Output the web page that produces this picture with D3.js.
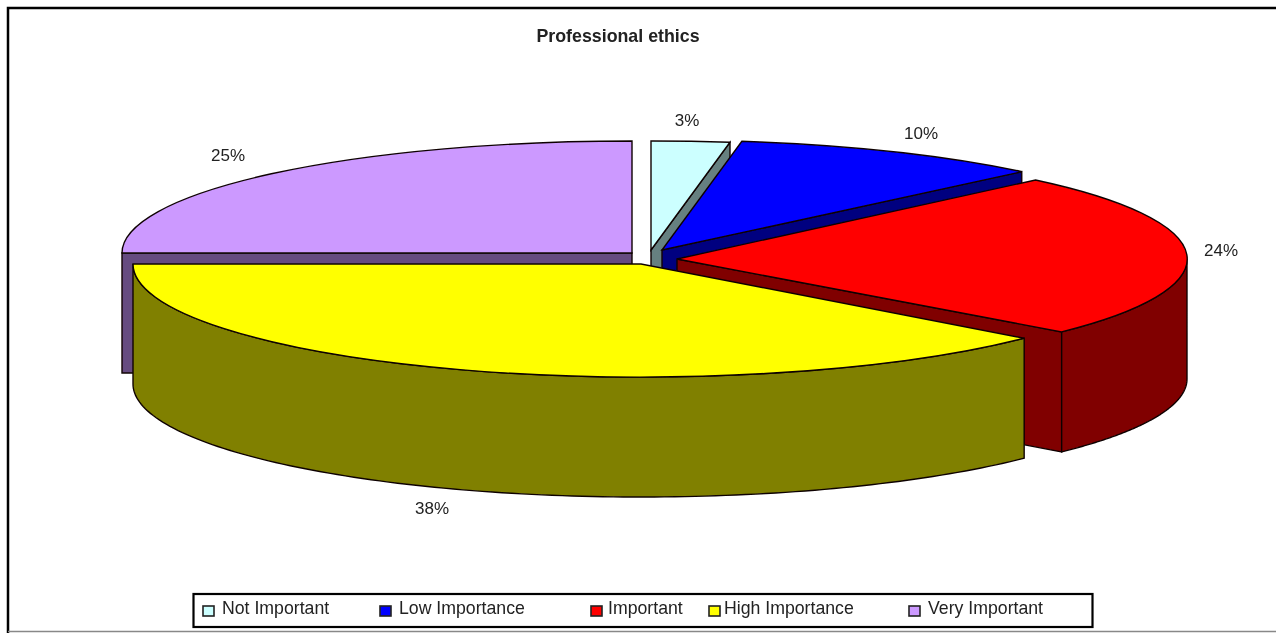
<!DOCTYPE html>
<html>
<head>
<meta charset="utf-8">
<script src="https://cdn.jsdelivr.net/npm/d3@7"></script>
<style>
html,body{margin:0;padding:0;background:#fff;overflow:hidden}
svg{display:block}
text{font-family:"Liberation Sans",Arial,sans-serif;fill:#222}
</style>
</head>
<body>
<svg id="c" width="1276" height="633"></svg>
<script>
// ---- data ----
const categories = ["Not Important", "Low Importance", "Important", "High Importance", "Very Important"];
const percentLabels = ["3%", "10%", "24%", "38%", "25%"];
// Shares as drawn: the sweep of each slice measured on the reference
const drawnShares = [2.5, 9.9, 24, 38.6, 25];
const topColors = ["#ccffff", "#0000ff", "#ff0000", "#ffff00", "#cc99ff"];
const sideColors = ["#668080", "#000080", "#800000", "#808000", "#664c80"];

// ---- layout ----
const chartTitle = "Professional ethics";
const depth = 120;
const sliceCenters = [[651, 250], [662, 250], [677, 259], [641, 264], [632, 253]];
const sliceRadii = [[505, 109], [512, 110], [510, 111], [508, 113], [510, 112]];
const labelAnchors = [[687, 126], [921, 139], [1221, 256], [432, 514], [228, 161]];
const legendSwatchX = [203, 380, 591, 709, 909];
const legendTextX = [222, 399, 608, 724, 928];
const paintOrder = [4, 0, 1, 2, 3];

const svg = d3.select("#c");
const defs = svg.append("defs");
defs.append("filter").attr("id", "soft")
  .attr("x", 0).attr("y", 0).attr("width", 1).attr("height", 1)
  .attr("filterUnits", "objectBoundingBox")
  .append("feGaussianBlur").attr("stdDeviation", 0.5);

const root = svg.append("g").attr("filter", "url(#soft)");
root.append("rect").attr("width", 1276).attr("height", 633).attr("fill", "#fff");

// frame
root.append("path").attr("d", "M1276,8H8V633").attr("fill", "none").attr("stroke", "#000").attr("stroke-width", 2.5);
root.append("line").attr("x1", 8).attr("x2", 1276).attr("y1", 631.5).attr("y2", 631.5)
  .attr("stroke", "#888").attr("stroke-width", 1.5);

// title
root.append("text").attr("x", 618).attr("y", 42).attr("text-anchor", "middle")
  .attr("font-size", 17.8).attr("font-weight", "bold").text(chartTitle);

const arcs = d3.pie().sort(null)(drawnShares);
const unitArc = d3.arc().innerRadius(0).outerRadius(1);
const line = d3.line();
const edge = "#100404";

function slicePoint(i, a, dy) {
  const [cx, cy] = sliceCenters[i], [rx, ry] = sliceRadii[i];
  return [cx + rx * Math.sin(a), cy - ry * Math.cos(a) + (dy || 0)];
}

paintOrder.forEach(i => {
  const d = arcs[i];
  const g = root.append("g");
  const [cx, cy] = sliceCenters[i], [rx, ry] = sliceRadii[i];
  const a0 = d.startAngle, a1 = d.endAngle;

  // cut faces, drawn when they turn towards the viewer
  [a0, a1].forEach((a, k) => {
    const towardViewer = (k === 1 && a < Math.PI) || (k === 0 && a >= 1.5 * Math.PI - 1e-6);
    if (!towardViewer) return;
    const p = slicePoint(i, a);
    g.append("path").attr("d", line([[cx, cy], p, [p[0], p[1] + depth], [cx, cy + depth]]) + "Z")
      .attr("fill", sideColors[i]).attr("stroke", edge).attr("stroke-width", 1.4);
  });

  // outer rim: only the near half of the ellipse shows
  const r0 = Math.max(a0, Math.PI / 2), r1 = Math.min(a1, 1.5 * Math.PI);
  if (r1 > r0) {
    const angles = d3.range(0, 121).map(t => r0 + (r1 - r0) * t / 120);
    const upper = angles.map(a => slicePoint(i, a));
    const lower = angles.map(a => slicePoint(i, a, depth)).reverse();
    g.append("path").attr("d", line(upper.concat(lower)) + "Z")
      .attr("fill", sideColors[i]).attr("stroke", edge).attr("stroke-width", 1.4);
  }

  // top face
  g.append("path").attr("d", unitArc(d))
    .attr("transform", `translate(${cx},${cy}) scale(${rx},${ry})`)
    .attr("fill", topColors[i]).attr("stroke", edge).attr("stroke-width", 1.4)
    .attr("vector-effect", "non-scaling-stroke");
});

// percent labels
root.selectAll("text.pct").data(percentLabels).join("text").attr("class", "pct")
  .attr("x", (d, i) => labelAnchors[i][0]).attr("y", (d, i) => labelAnchors[i][1])
  .attr("text-anchor", "middle").attr("font-size", 17).text(d => d);

// legend
root.append("rect").attr("x", 193.5).attr("y", 594).attr("width", 899).attr("height", 33)
  .attr("fill", "#fff").attr("stroke", "#000").attr("stroke-width", 2.2);
root.selectAll("rect.sw").data(categories).join("rect").attr("class", "sw")
  .attr("x", (d, i) => legendSwatchX[i]).attr("y", 606).attr("width", 11).attr("height", 10)
  .attr("fill", (d, i) => topColors[i]).attr("stroke", "#222").attr("stroke-width", 1.6);
root.selectAll("text.lg").data(categories).join("text").attr("class", "lg")
  .attr("x", (d, i) => legendTextX[i]).attr("y", 614)
  .attr("font-size", 17.7).text(d => d);
</script>
</body>
</html>
